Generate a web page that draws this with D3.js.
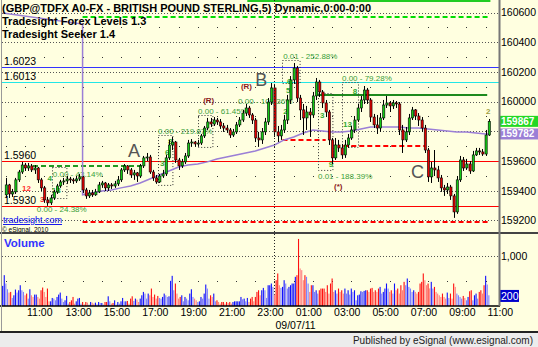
<!DOCTYPE html>
<html>
<head>
<meta charset="utf-8">
<script src="https://cdn.jsdelivr.net/npm/d3@7"></script>
<style>
  body { margin: 0; background: #fff; }
  svg { display: block; font-family: Arial, "Liberation Sans", sans-serif; }
</style>
</head>
<body>
<svg id="chart"></svg>
<script>
// ---- data ----
// price bars, 10 minute steps from 10:00 on 09/06
const barStart = '2011-09-06 10:00';
const firstOpen = 159372;
const closes = [
  159439,159378,159392,159473,159526,159573,159553,159567,159540,159553,
  159473,159419,159338,159318,159351,159392,159432,159459,159466,159479,
  159473,159466,159479,159493,159405,159365,159385,159372,159392,159439,
  159452,159419,159439,159432,159446,159473,159540,159567,159540,159506,
  159520,159499,159567,159621,159627,159526,159486,159459,159499,159513,
  159621,159708,159728,159607,159567,159594,159634,159721,159728,159715,
  159721,159769,159822,159863,159849,159876,159863,159836,159822,159809,
  159775,159796,159843,159876,159923,159957,159910,159876,159755,159742,
  159796,159863,159997,160092,159796,159769,159809,159876,160011,160146,
  160226,160024,159944,159890,159930,159910,160038,160132,160065,159991,
  159930,159742,159621,159708,159688,159641,159708,159755,159809,159876,
  159957,160011,160078,160011,159896,159843,159822,159890,159977,159991,
  159971,159991,159984,159809,159742,159796,159890,159944,159903,159876,
  159822,159674,159493,159553,159540,159486,159419,159405,159425,159365,
  159257,159473,159607,159553,159580,159533,159641,159668,159661,159647,
  159775,159867];
const highs = [
  159486,159446,159412,159486,159540,159594,159587,159587,159580,159573,
  159560,159486,159432,159358,159372,159405,159446,159473,159486,159499,
  159493,159486,159499,159513,159499,159419,159405,159405,159412,159459,
  159466,159459,159452,159452,159466,159499,159553,159580,159573,159553,
  159540,159526,159580,159634,159654,159641,159540,159506,159513,159540,
  159641,159742,159762,159735,159621,159614,159654,159742,159748,159735,
  159742,159782,159836,159890,159890,159896,159890,159883,159856,159843,
  159822,159816,159863,159896,159944,159984,159971,159923,159890,159796,
  159822,159890,160024,160125,160119,159836,159843,159910,160045,160172,
  160260,160240,160045,159984,159971,159957,160065,160159,160146,160078,
  160011,159944,159755,159755,159742,159715,159742,159782,159836,159903,
  159984,160038,160105,160092,160024,159917,159910,159923,160011,160038,
  160004,160011,160004,159997,159843,159829,159917,159964,159950,159923,
  159896,159843,159688,159594,159674,159567,159506,159439,159452,159439,
  159378,159499,159634,159627,159614,159600,159668,159688,159688,159681,
  159809,159883];
const lows = [
  159351,159351,159358,159378,159459,159513,159533,159533,159526,159513,
  159452,159398,159318,159298,159304,159338,159378,159419,159439,159446,
  159452,159446,159452,159466,159385,159345,159351,159358,159365,159385,
  159419,159398,159398,159412,159419,159432,159459,159526,159513,159486,
  159473,159459,159486,159553,159600,159513,159466,159446,159452,159486,
  159499,159607,159674,159587,159540,159553,159580,159621,159695,159695,
  159701,159708,159755,159809,159829,159836,159843,159816,159796,159789,
  159755,159762,159782,159829,159863,159903,159890,159849,159728,159695,
  159715,159775,159843,159977,159762,159728,159742,159789,159849,159984,
  160119,159997,159876,159775,159809,159762,159890,160011,160031,159957,
  159896,159708,159580,159607,159661,159614,159621,159688,159742,159789,
  159863,159930,159984,159984,159863,159822,159782,159796,159876,159957,
  159930,159950,159957,159775,159654,159728,159775,159876,159876,159836,
  159796,159654,159459,159452,159499,159459,159392,159365,159378,159338,
  159217,159244,159459,159533,159540,159513,159526,159634,159641,159634,
  159634,159769];

// volume, 5 minute steps from 09:50 on 09/06
const volStart = '2011-09-06 09:50';
const volumes = [
  400,613,447,333,267,280,160,213,327,267,313,413,313,280,213,247,147,333,213,180,
  227,227,180,147,313,367,280,180,347,93,93,160,147,113,180,227,267,147,80,113,200,
  47,80,113,180,47,93,147,160,47,80,33,80,67,27,80,67,47,67,33,80,60,
  60,27,80,80,193,93,47,60,113,27,80,47,93,160,93,93,100,47,147,193,100,
  147,127,80,147,213,280,247,147,247,213,347,180,227,147,200,160,147,180,247,213,180,
  193,500,600,313,447,247,147,180,213,93,180,147,113,247,333,180,147,113,80,93,
  180,147,247,427,347,147,213,180,247,93,113,80,47,80,80,47,80,60,80,47,80,
  93,93,93,93,180,133,147,93,160,80,147,180,93,180,280,313,213,313,360,313,160,
  413,413,447,380,227,513,647,413,360,380,513,447,347,380,413,447,447,580,613,1333,
  747,713,513,613,580,447,280,413,413,280,313,247,313,347,347,347,280,413,247,447,
  547,280,313,247,347,280,313,247,347,247,313,227,347,280,313,113,213,227,293,280,300,
  313,313,280,347,360,280,313,280,347,380,247,280,347,447,347,280,313,247,447,313,
  347,247,413,313,480,413,547,380,347,280,313,280,247,280,447,480,647,513,413,447,350,
  480,347,380,280,247,213,180,247,180,147,267,160,247,147,447,380,247,213,180,147,200,
  160,113,180,293,313,113,213,247,147,280,313,247,413,600,427,213];

// moving average (purple)
const maTimes = ['2011-09-06 09:50','2011-09-06 14:00','2011-09-06 14:00',
  '2011-09-06 14:30','2011-09-06 15:00','2011-09-06 15:30','2011-09-06 16:00','2011-09-06 16:30',
  '2011-09-06 17:00','2011-09-06 17:30','2011-09-06 18:00','2011-09-06 18:30','2011-09-06 19:00',
  '2011-09-06 19:30','2011-09-06 20:00','2011-09-06 20:30','2011-09-06 21:00','2011-09-06 21:30',
  '2011-09-06 22:00','2011-09-06 22:30','2011-09-06 23:00','2011-09-06 23:30',
  '2011-09-07 00:00','2011-09-07 00:30','2011-09-07 01:00','2011-09-07 01:30','2011-09-07 02:00',
  '2011-09-07 02:30','2011-09-07 03:00','2011-09-07 03:30','2011-09-07 04:00','2011-09-07 04:30',
  '2011-09-07 05:00','2011-09-07 05:30','2011-09-07 06:00','2011-09-07 06:30','2011-09-07 07:00',
  '2011-09-07 07:30','2011-09-07 08:00','2011-09-07 08:30','2011-09-07 09:00','2011-09-07 09:30',
  '2011-09-07 10:00','2011-09-07 10:30','2011-09-07 11:00','2011-09-07 11:10'];
const maValues = [160596,160522,159372,
  159385,159398,159405,159419,159432,159452,159479,159506,159533,159560,
  159573,159580,159594,159614,159627,159641,159654,159668,159688,
  159708,159742,159762,159789,159809,159802,159796,159796,159802,159816,
  159829,159829,159829,159829,159822,159822,159816,159809,159802,159796,
  159796,159789,159782,159782];

// axes
const priceTicks = [159200,159400,159600,159800,160000,160200,160400,160600];
const minorTicks = [159300,159500,159700,159900,160100,160300,160500];
const timeTicks = ['2011-09-06 11:00','2011-09-06 13:00','2011-09-06 15:00','2011-09-06 17:00',
  '2011-09-06 19:00','2011-09-06 21:00','2011-09-06 23:00','2011-09-07 01:00','2011-09-07 03:00',
  '2011-09-07 05:00','2011-09-07 07:00','2011-09-07 09:00','2011-09-07 11:00'];
const dayBreak = '2011-09-07 00:00';
const dateLabel = '09/07/11';
const volTicks = [1000];
const volLabel = 200;

// Tradesight levels (full width)
const levelNames = ['1.6023','1.6013','1.5960','1.5930'];
const levelPrices = [160230,160130,159600,159300];

// partial level lines
const segFrom = ['2011-09-06 14:00','2011-09-06 14:00','2011-09-06 11:25','2011-09-07 00:25','2011-09-07 03:35','2011-09-07 02:15','2011-09-06 22:35'];
const segTo = ['2011-09-07 11:15','2011-09-07 11:15','2011-09-06 17:10','2011-09-07 02:40','2011-09-07 07:50','2011-09-07 11:05','2011-09-07 11:15'];
const segPrices = [160570,159190,159567,159742,159701,160047,160677];

// seeker boxes
const boxFrom = ['2011-09-06 12:25','2011-09-06 17:55','2011-09-06 20:00','2011-09-07 00:25','2011-09-07 02:15','2011-09-07 03:30'];
const boxTo = ['2011-09-06 13:10','2011-09-06 18:40','2011-09-06 20:45','2011-09-07 01:20','2011-09-07 03:00','2011-09-07 04:20'];
const boxTop = [159560,159775,159910,160280,160058,160132];
const boxBottom = [159351,159439,159695,160125,159540,159695];

// text notes on the chart
const noteTexts = ['0.00 - 43.14%','0.00 - 24.38%','0.00 - 219.87%','0.00 - 61.45%','0.00 - 101.36%',
  '0.01 - 252.88%','0.00 - 79.28%','0.01 - 188.39%','(R)','(R)','(*)','A','B','C',
  '4','13','12','3','8','6','3','6','5','2','3','9','8','13','2'];
const noteTimes = ['2011-09-06 12:27','2011-09-06 11:37','2011-09-06 17:56','2011-09-06 20:01','2011-09-06 22:06',
  '2011-09-07 00:27','2011-09-07 03:31','2011-09-07 02:16','2011-09-06 20:17','2011-09-06 22:15','2011-09-07 03:06',
  '2011-09-06 16:22','2011-09-06 23:00','2011-09-07 07:07',
  '2011-09-06 12:10','2011-09-06 12:24','2011-09-06 10:51','2011-09-06 11:47','2011-09-06 18:27','2011-09-06 18:18',
  '2011-09-06 18:02','2011-09-07 00:39','2011-09-07 00:36','2011-09-07 00:27','2011-09-07 02:22','2011-09-07 02:50',
  '2011-09-07 04:05','2011-09-07 03:34','2011-09-07 11:01'];
const notePrices = [159493,159257,159782,159917,159984,160287,160139,159479,159990,160085,159412,
  159627,160105,159486,
  159466,159385,159398,159322,159712,159638,159567,160119,160055,159915,159890,159560,160051,159829,159917];
const noteKinds = ['pct','pct','pct','pct','pct','pct','pct','pct','r','r','r','wave','wave','wave',
  'cnt','cnt','cntRed','cntRed','cnt','cnt','cnt','cnt','cnt','cnt','cnt','cnt','cnt','cnt','cntOlive'];

const parseTime = d3.timeParse('%Y-%m-%d %H:%M');

class SignalChart {
  constructor(_config) {
    this.config = {
      parentElement: _config.parentElement,
      containerWidth: _config.containerWidth || 538,
      containerHeight: _config.containerHeight || 347,
      plotRight: 499,
      priceBottom: 232,
      volTop: 234,
      volBottom: 306
    };
    this.initVis();
  }

  initVis() {
    let vis = this;
    const c = vis.config;

    vis.svg = d3.select(c.parentElement)
      .attr('width', c.containerWidth)
      .attr('height', c.containerHeight);

    vis.xScale = d3.scaleTime()
      .domain([parseTime(timeTicks[0]), parseTime(timeTicks[timeTicks.length - 1])])
      .range([25, 485.6]);

    vis.yScale = d3.scaleLinear()
      .domain([159200, 160600])
      .range([220.4, 12.5]);

    vis.volScale = d3.scaleLinear()
      .domain([0, 1000])
      .range([c.volBottom, 255.7]);

    //build bar records
    vis.bars = closes.map((cl, i) => ({
      time: d3.timeMinute.offset(parseTime(barStart), i * 10),
      open: i ? closes[i - 1] : firstOpen,
      close: cl,
      high: highs[i],
      low: lows[i]
    }));

    vis.vols = volumes.map((v, i) => {
      const t = d3.timeMinute.offset(parseTime(volStart), i * 5);
      let bi = Math.floor((t - parseTime(barStart)) / 600000);
      bi = Math.max(0, Math.min(vis.bars.length - 1, bi));
      const b = vis.bars[bi];
      return {time: t, value: v, up: b.close >= b.open, light: i > 0 && v < volumes[i - 1]};
    });

    vis.ma = maTimes.map((t, i) => ({time: parseTime(t), value: maValues[i]}));

    vis.renderVis();
  }

  renderVis() {
    let vis = this;
    const c = vis.config;
    const x = vis.xScale, y = vis.yScale, yv = vis.volScale;
    const px = v => Math.round(v) + 0.5;

    // backgrounds
    vis.svg.append('rect').attr('width', c.containerWidth).attr('height', 332).attr('fill', '#ffffe0');
    vis.svg.append('rect').attr('y', 333).attr('width', c.containerWidth).attr('height', 14).attr('fill', '#ececec');

    const price = vis.svg.append('g').attr('class', 'price-pane');

    // dotted price grid
    price.selectAll('.grid')
      .data(priceTicks)
      .join('line')
      .attr('class', 'grid')
      .attr('x1', 2).attr('x2', c.plotRight)
      .attr('y1', d => px(y(d))).attr('y2', d => px(y(d)))
      .attr('stroke', '#555').attr('stroke-dasharray', '1,2');

    // hourly dots at the half levels
    const hours = d3.timeHour.range(parseTime('2011-09-06 10:00'), parseTime('2011-09-07 11:30'));
    const dotData = [];
    hours.forEach(h => minorTicks.forEach(p => dotData.push([h, p])));
    price.selectAll('.dot')
      .data(dotData)
      .join('rect')
      .attr('class', 'dot')
      .attr('x', d => Math.round(x(d[0])))
      .attr('y', d => Math.round(y(d[1])))
      .attr('width', 1).attr('height', 1)
      .attr('fill', '#333');

    // day break
    vis.svg.append('line')
      .attr('x1', px(x(parseTime(dayBreak)))).attr('x2', px(x(parseTime(dayBreak))))
      .attr('y1', 0).attr('y2', c.volBottom)
      .attr('stroke', '#222').attr('stroke-dasharray', '1,2');

    // full width levels
    const levelColors = ['#3333ff', '#22e6e6', '#ff0000', '#ff0000'];
    price.selectAll('.level')
      .data(levelPrices)
      .join('line')
      .attr('class', 'level')
      .attr('x1', 2).attr('x2', c.plotRight)
      .attr('y1', d => px(y(d))).attr('y2', d => px(y(d)))
      .attr('stroke', (d, i) => levelColors[i])
      .attr('stroke-width', 1.2);

    price.selectAll('.level-label')
      .data(levelNames)
      .join('text')
      .attr('class', 'level-label')
      .attr('x', 4)
      .attr('y', (d, i) => y(levelPrices[i]) - 2)
      .attr('font-size', 10.5)
      .attr('fill', '#000')
      .text(d => d);

    // partial lines
    const segColors = ['#00dd00', '#ff0000', '#229922', '#ff0000', '#ff0000', '#1e8a1e', '#22cc22'];
    const segDash = ['5,3', '5,3', '5,3', '5,3', '5,3', null, null];
    price.selectAll('.seg')
      .data(segPrices)
      .join('line')
      .attr('class', 'seg')
      .attr('x1', (d, i) => x(parseTime(segFrom[i])))
      .attr('x2', (d, i) => x(parseTime(segTo[i])))
      .attr('y1', d => Math.round(y(d))).attr('y2', d => Math.round(y(d)))
      .attr('stroke', (d, i) => segColors[i])
      .attr('stroke-width', 2)
      .attr('stroke-dasharray', (d, i) => segDash[i]);

    // seeker boxes
    price.selectAll('.box')
      .data(boxTop)
      .join('rect')
      .attr('class', 'box')
      .attr('x', (d, i) => px(x(parseTime(boxFrom[i]))))
      .attr('y', d => px(y(d)))
      .attr('width', (d, i) => x(parseTime(boxTo[i])) - x(parseTime(boxFrom[i])))
      .attr('height', (d, i) => y(boxBottom[i]) - y(d))
      .attr('fill', 'none')
      .attr('stroke', '#333')
      .attr('stroke-dasharray', '1,2');

    // notes
    const noteStyle = {
      pct: {size: 8, fill: '#3aa03a', weight: 'normal'},
      r: {size: 8, fill: '#8b1a1a', weight: 'bold'},
      wave: {size: 18, fill: '#555', weight: 'normal'},
      cnt: {size: 8, fill: '#33aa33', weight: 'bold'},
      cntRed: {size: 8, fill: '#ff3030', weight: 'bold'},
      cntOlive: {size: 8, fill: '#a0a040', weight: 'bold'}
    };
    price.selectAll('.note')
      .data(noteTexts)
      .join('text')
      .attr('class', 'note')
      .attr('x', (d, i) => x(parseTime(noteTimes[i])))
      .attr('y', (d, i) => y(notePrices[i]))
      .attr('font-size', (d, i) => noteStyle[noteKinds[i]].size)
      .attr('font-weight', (d, i) => noteStyle[noteKinds[i]].weight)
      .attr('fill', (d, i) => noteStyle[noteKinds[i]].fill)
      .text(d => d);

    // moving average
    const maLine = d3.line().x(d => x(d.time)).y(d => y(d.value));
    price.append('path')
      .datum(vis.ma)
      .attr('d', maLine)
      .attr('fill', 'none')
      .attr('stroke', '#9b7fd6')
      .attr('stroke-width', 1.5);

    // candles
    const bw = 2.2;
    const candle = price.selectAll('.candle')
      .data(vis.bars)
      .join('g')
      .attr('class', 'candle');
    candle.append('line')
      .attr('x1', d => px(x(d.time))).attr('x2', d => px(x(d.time)))
      .attr('y1', d => y(Math.max(d.high, d.open, d.close)))
      .attr('y2', d => y(Math.min(d.low, d.open, d.close)))
      .attr('stroke', '#000');
    candle.append('rect')
      .attr('x', d => x(d.time) - bw / 2 + 0.5)
      .attr('y', d => y(Math.max(d.open, d.close)))
      .attr('width', bw)
      .attr('height', d => Math.max(1, Math.abs(y(d.open) - y(d.close))))
      .attr('fill', d => d.close >= d.open ? '#14c814' : '#e00000')
      .attr('stroke', '#000')
      .attr('stroke-width', 0.6);

    // header text
    const header = ['(GBP@TDFX A0-FX - BRITISH POUND STERLING,5) Dynamic,0:00-0:00',
      'Tradesight Forex Levels 1.3', 'Tradesight Seeker 1.4'];
    vis.svg.selectAll('.header')
      .data(header)
      .join('text')
      .attr('class', 'header')
      .attr('x', 2)
      .attr('y', (d, i) => 11.5 + i * 13)
      .attr('font-size', 11)
      .attr('font-weight', 'bold')
      .text(d => d);

    vis.svg.append('text')
      .attr('x', 3).attr('y', 223)
      .attr('font-size', 9)
      .attr('fill', '#0000ee')
      .attr('text-decoration', 'underline')
      .text('tradesight.com');
    vis.svg.append('text')
      .attr('x', 2).attr('y', 231.5)
      .attr('font-size', 6.5)
      .text('\u00a9 eSignal, 2010');

    // last price and average boxes
    const tags = [
      {value: closes[closes.length - 1], fill: '#22d822'},
      {value: maValues[maValues.length - 1], fill: '#9b7fd6'}
    ];

    // price axis, labels under the tags are hidden as in eSignal
    vis.priceAxis = d3.axisRight(y)
      .tickValues(priceTicks.filter(p => tags.every(t => Math.abs(y(p) - y(t.value)) > 9)))
      .tickSize(0)
      .tickPadding(2)
      .tickFormat(d3.format('d'));
    const pa = vis.svg.append('g')
      .attr('transform', `translate(${c.plotRight},0)`)
      .call(vis.priceAxis);
    pa.select('.domain').remove();
    pa.attr('font-family', null).attr('font-size', 10.5);
    pa.selectAll('text').attr('fill', '#000');

    const tag = vis.svg.selectAll('.tag').data(tags).join('g').attr('class', 'tag');
    tag.append('rect')
      .attr('x', c.plotRight + 1)
      .attr('y', d => y(d.value) - 5.5)
      .attr('width', 38).attr('height', 11)
      .attr('fill', d => d.fill);
    tag.append('text')
      .attr('x', c.plotRight + 2)
      .attr('y', d => y(d.value) + 3.5)
      .attr('font-size', 10)
      .attr('font-weight', 'bold')
      .attr('fill', '#fff')
      .text(d => d.value);

    // ---- volume pane ----
    vis.svg.append('line')
      .attr('x1', 0).attr('x2', c.containerWidth)
      .attr('y1', 233).attr('y2', 233)
      .attr('stroke', '#444').attr('stroke-width', 2);

    vis.svg.append('text')
      .attr('x', 4).attr('y', 247)
      .attr('font-size', 11.5)
      .attr('font-weight', 'bold')
      .attr('fill', '#3333ff')
      .text('Volume');

    vis.svg.selectAll('.vgrid')
      .data(volTicks)
      .join('line')
      .attr('class', 'vgrid')
      .attr('x1', 2).attr('x2', c.plotRight)
      .attr('y1', d => px(yv(d))).attr('y2', d => px(yv(d)))
      .attr('stroke', '#555').attr('stroke-dasharray', '1,2');

    vis.svg.selectAll('.vdot')
      .data(hours)
      .join('rect')
      .attr('class', 'vdot')
      .attr('x', d => Math.round(x(d)))
      .attr('y', Math.round(yv(500)))
      .attr('width', 1).attr('height', 1)
      .attr('fill', '#333');

    vis.svg.selectAll('.vol')
      .data(vis.vols)
      .join('rect')
      .attr('class', 'vol')
      .attr('x', d => x(d.time) - 0.5)
      .attr('y', d => yv(d.value))
      .attr('width', 1.1)
      .attr('height', d => c.volBottom - yv(d.value))
      .attr('fill', d => d.up ? (d.light ? '#8080ff' : '#1010ff') : (d.light ? '#ff8080' : '#ff1010'));

    const va = vis.svg.append('g')
      .attr('transform', `translate(${c.plotRight},0)`)
      .call(d3.axisRight(yv).tickValues(volTicks).tickSize(0).tickPadding(2).tickFormat(d3.format(',')));
    va.select('.domain').remove();
    va.attr('font-family', null).attr('font-size', 10.5);
    va.selectAll('text').attr('fill', '#000');

    vis.svg.append('rect')
      .attr('x', c.plotRight + 1).attr('y', yv(volLabel) - 6)
      .attr('width', 19).attr('height', 12)
      .attr('fill', '#0000cc');
    vis.svg.append('text')
      .attr('x', c.plotRight + 2).attr('y', yv(volLabel) + 4)
      .attr('font-size', 10.5).attr('fill', '#fff')
      .text(volLabel);

    // frame lines
    vis.svg.append('line')
      .attr('x1', 0).attr('x2', c.plotRight + 1)
      .attr('y1', c.volBottom).attr('y2', c.volBottom)
      .attr('stroke', '#000').attr('stroke-width', 1.5);
    vis.svg.append('line')
      .attr('x1', c.plotRight + 0.5).attr('x2', c.plotRight + 0.5)
      .attr('y1', 0).attr('y2', c.volBottom)
      .attr('stroke', '#777').attr('stroke-width', 2);
    vis.svg.append('line')
      .attr('x1', 1.5).attr('x2', 1.5)
      .attr('y1', 0).attr('y2', 332)
      .attr('stroke', '#999');
    vis.svg.append('line')
      .attr('x1', 0).attr('x2', c.containerWidth)
      .attr('y1', 332).attr('y2', 332)
      .attr('stroke', '#222').attr('stroke-width', 2);

    // time axis
    vis.xAxis = d3.axisBottom(x)
      .tickValues(timeTicks.map(parseTime))
      .tickSize(0)
      .tickPadding(3)
      .tickFormat(d3.timeFormat('%H:%M'));
    const xa = vis.svg.append('g')
      .attr('transform', `translate(0,${c.volBottom})`)
      .call(vis.xAxis);
    xa.select('.domain').remove();
    xa.attr('font-family', null).attr('font-size', 10.5);
    xa.selectAll('text')
      .attr('x', 1.5)
      .attr('text-anchor', 'start')
      .attr('fill', '#000');

    vis.svg.append('text')
      .attr('x', x(parseTime(dayBreak)) + 1)
      .attr('y', 329)
      .attr('font-size', 10.5)
      .text(dateLabel);

    vis.svg.append('text')
      .attr('x', 533).attr('y', 344)
      .attr('text-anchor', 'end')
      .attr('font-size', 10)
      .attr('fill', '#222')
      .text('Published by eSignal (www.esignal.com)');
  }
}

new SignalChart({parentElement: '#chart'});
</script>
</body>
</html>
